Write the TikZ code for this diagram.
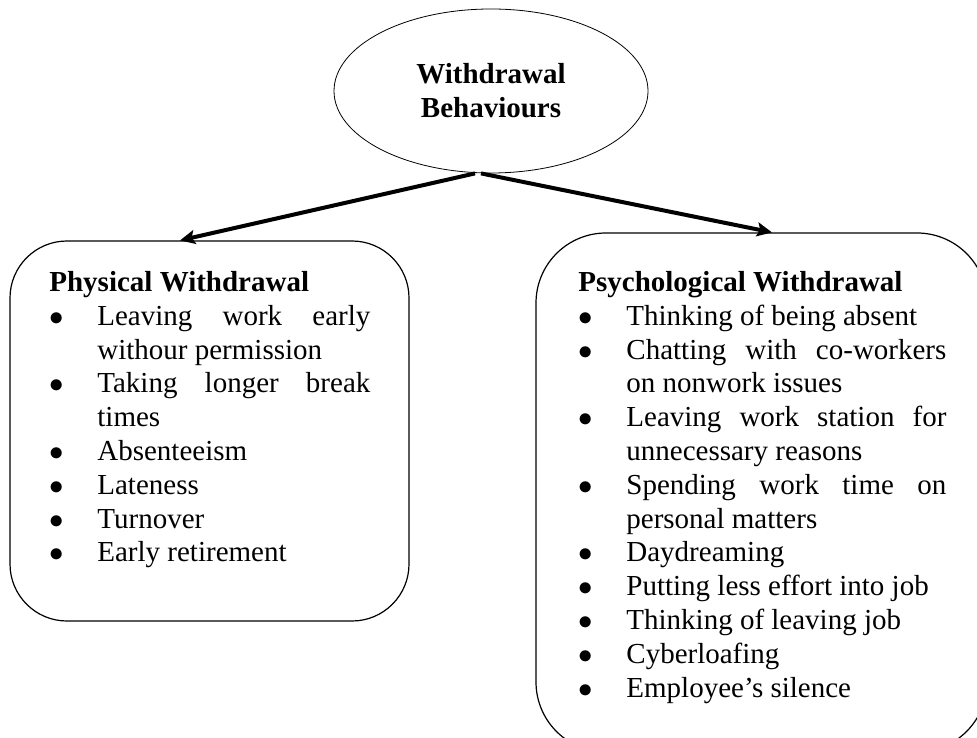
\documentclass[tikz,border=0pt]{standalone}
\usepackage{fontspec}
\setmainfont{Liberation Serif}
\usetikzlibrary{shapes.geometric,arrows.meta}

\newcommand\wfont{\fontsize{14.5}{16.9}\selectfont\hyphenpenalty=10000 \exhyphenpenalty=10000 \tolerance=9999 \hbadness=10000 }
\newcommand\wbul[1]{\par\hangindent=24pt\hangafter=1\noindent\makebox[24pt][l]{$\bullet$}#1}

\begin{document}
\begin{tikzpicture}[x=0.5pt,y=-0.5pt,
    wbox/.style={draw,line width=0.6pt,inner sep=0pt},
    wlist/.style={anchor=north west,inner sep=0pt,text width=#1,align=justify,font=\wfont},
    warrow/.style={line width=2pt,-{Stealth[length=7.5pt,width=7pt,inset=1.5pt]}}]
    \useasboundingbox (0,0) rectangle (977,737);
    \clip (0,0) rectangle (977,737);

    \node [draw,ellipse,inner sep=0pt,minimum width=157pt,minimum height=82pt,
        align=center,font=\wfont\bfseries] (behav) at (491,91) {Withdrawal\\Behaviours};

    \node [wbox,rounded corners=28.5pt,minimum width=199.5pt,minimum height=190pt] (phys) at (209.5,431) {};
    \node [wbox,rounded corners=35pt,minimum width=225.5pt,minimum height=259.5pt] (psych) at (761.5,492.5) {};

    % the two lists
    \node [wlist=160.5pt] (physlist) at (49,267.4) {\noindent\strut\textbf{Physical Withdrawal}
        \wbul{Leaving work early\linebreak withour permission}
        \wbul{Taking longer break\linebreak times}
        \wbul{Absenteeism}
        \wbul{Lateness}
        \wbul{Turnover}
        \wbul{Early retirement}};
    \node [wlist=184pt] (psychlist) at (578,267.4) {\noindent\strut\textbf{Psychological Withdrawal}
        \wbul{Thinking of being absent}
        \wbul{Chatting with co-workers\linebreak on nonwork issues}
        \wbul{Leaving work station for\linebreak unnecessary reasons}
        \wbul{Spending work time on\linebreak personal matters}
        \wbul{Daydreaming}
        \wbul{Putting less effort into job}
        \wbul{Thinking of leaving job}
        \wbul{Cyberloafing}
        \wbul{Employee’s silence}};

    \draw [warrow] ([xshift=-8pt]behav.south) -- ([xshift=-14.75pt]phys.north);
    \draw [warrow] ([xshift=-5pt]behav.south) -- ([xshift=5.25pt]psych.north);
\end{tikzpicture}
\end{document}
